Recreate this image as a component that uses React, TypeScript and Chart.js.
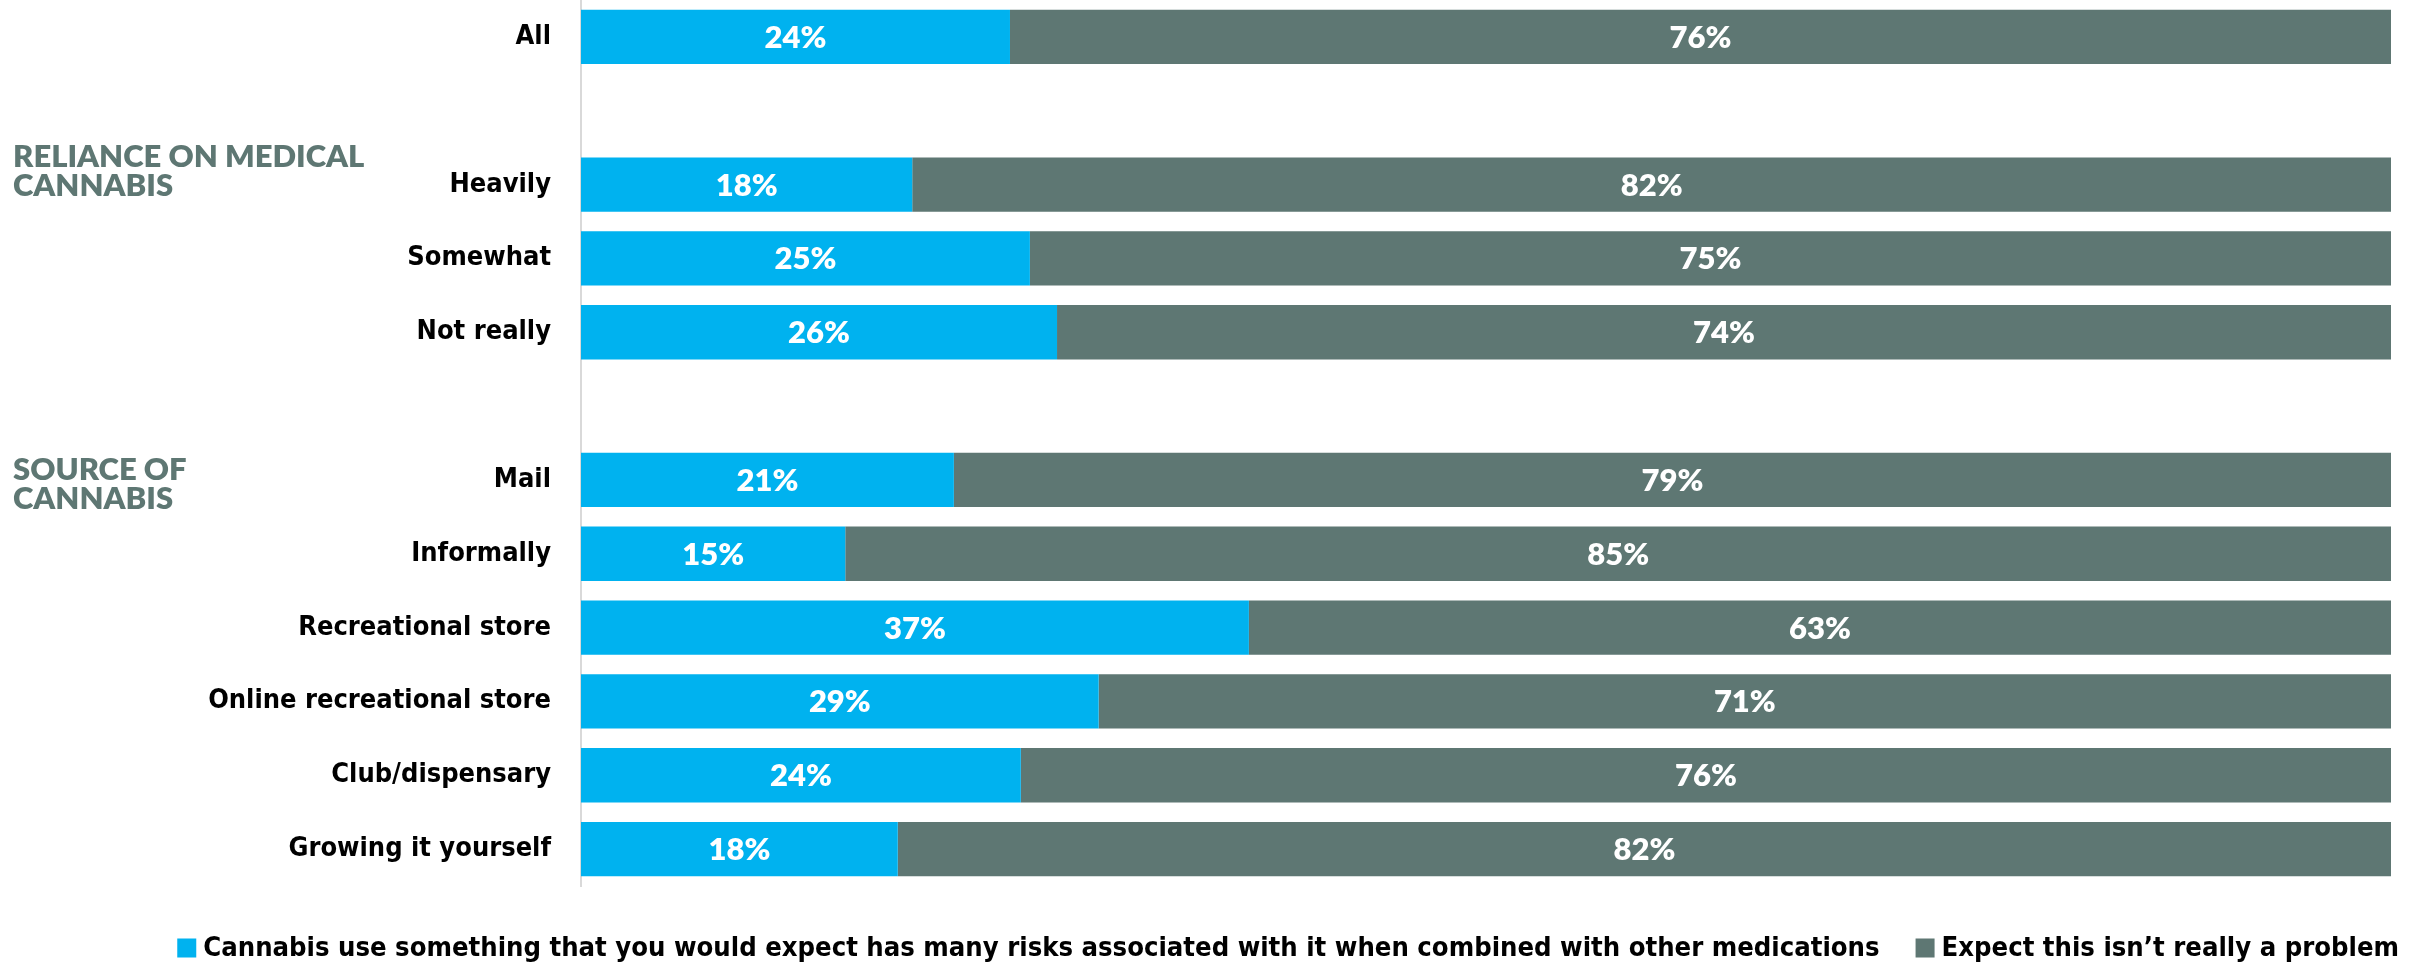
import React, { useEffect, useRef } from "react";
import { Chart, registerables } from "chart.js";

Chart.register(...registerables);

const categories = [
  "All",
  "",
  "Heavily",
  "Somewhat",
  "Not really",
  "",
  "Mail",
  "Informally",
  "Recreational store",
  "Online recreational store",
  "Club/dispensary",
  "Growing it yourself",
];
const risksValues = [23.7, null, 18.3, 24.8, 26.3, null, 20.6, 14.6, 36.9, 28.6, 24.3, 17.5];
const noProblemValues = [76.3, null, 81.7, 75.2, 73.7, null, 79.4, 85.4, 63.1, 71.4, 75.7, 82.5];
const risksLabels = ["24%", "", "18%", "25%", "26%", "", "21%", "15%", "37%", "29%", "24%", "18%"];
const noProblemLabels = ["76%", "", "82%", "75%", "74%", "", "79%", "85%", "63%", "71%", "76%", "82%"];
const seriesNames = [
  "Cannabis use something that you would expect has many risks associated with it when combined with other medications",
  "Expect this isn’t really a problem",
];
const seriesColors = ["#00b2ef", "#5e7773"];
const groupTitles = [
  ["RELIANCE ON MEDICAL", "CANNABIS"],
  ["SOURCE OF", "CANNABIS"],
];
const groupRows = [2, 6];
const groupOffsets = [-28, -10];

const TICK_FONT = "'Liberation Sans Narrow', 'DejaVu Sans Condensed', 'Roboto Condensed', sans-serif";
const LABEL_FONT = "Lato, 'Open Sans', sans-serif";

const valueLabelPlugin = {
  id: "valueLabels",
  afterDatasetsDraw(chart: any) {
    const ctx = chart.ctx;
    const labelSets = [risksLabels, noProblemLabels];
    ctx.save();
    ctx.fillStyle = "#ffffff";
    ctx.font = `800 31px ${LABEL_FONT}`;
    ctx.textAlign = "center";
    ctx.textBaseline = "middle";
    chart.data.datasets.forEach((ds: any, di: number) => {
      const meta = chart.getDatasetMeta(di);
      meta.data.forEach((el: any, i: number) => {
        const v = ds.data[i];
        if (v == null) return;
        const p = el.getProps(["x", "y", "base"], true);
        const cx = (p.x + p.base) / 2;
        ctx.fillText(labelSets[di][i], cx, p.y + 1);
      });
    });
    ctx.restore();
  },
};

const groupAndLegendPlugin = {
  id: "groupAndLegend",
  afterDraw(chart: any) {
    const ctx = chart.ctx;
    const yScale = chart.scales.y;
    ctx.save();
    // group titles
    ctx.font = `800 31px ${LABEL_FONT}`;
    ctx.fillStyle = "#5e7773";
    ctx.textAlign = "left";
    ctx.textBaseline = "middle";
    groupTitles.forEach((lines, gi) => {
      const base = yScale.getPixelForValue(groupRows[gi]) + groupOffsets[gi];
      lines.forEach((line, li) => {
        ctx.fillText(line, 13, base + li * 29);
      });
    });
    // legend
    ctx.font = `bold 27.2px ${TICK_FONT}`;
    const box = 19;
    const boxGap = 7;
    const itemGap = 36;
    const widths = seriesNames.map((n) => ctx.measureText(n).width);
    const total =
      widths.reduce((a, b) => a + b, 0) +
      seriesNames.length * (box + boxGap) +
      itemGap * (seriesNames.length - 1);
    let x = chart.chartArea.right + 8 - total;
    const y = 948;
    seriesNames.forEach((n, i) => {
      ctx.fillStyle = seriesColors[i];
      ctx.fillRect(x, y - box / 2, box, box);
      x += box + boxGap;
      ctx.fillStyle = "#000000";
      ctx.textBaseline = "middle";
      ctx.fillText(n, x, y + 1);
      x += widths[i] + itemGap;
    });
    ctx.restore();
  },
};

export default function App() {
  const canvasRef = useRef<HTMLCanvasElement | null>(null);

  useEffect(() => {
    if (!canvasRef.current) return;
    const chart = new Chart(canvasRef.current, {
      type: "bar",
      data: {
        labels: categories,
        datasets: [
          {
            label: seriesNames[0],
            data: risksValues,
            backgroundColor: seriesColors[0],
            barPercentage: 0.735,
            categoryPercentage: 1,
          },
          {
            label: seriesNames[1],
            data: noProblemValues,
            backgroundColor: seriesColors[1],
            barPercentage: 0.735,
            categoryPercentage: 1,
          },
        ],
      },
      options: {
        indexAxis: "y",
        responsive: false,
        maintainAspectRatio: false,
        animation: false,
        layout: { padding: { left: 0, right: 31, top: 0, bottom: 80 } },
        plugins: {
          legend: { display: false },
          tooltip: { enabled: false },
        },
        scales: {
          x: {
            stacked: true,
            min: 0,
            max: 100,
            display: false,
          },
          y: {
            stacked: true,
            grid: { display: false },
            border: { display: true, color: "#d9d9d9", width: 2 },
            ticks: {
              color: "#000000",
              padding: 22,
              font: { family: TICK_FONT, size: 27, weight: "bold" },
            },
            afterFit(scale: any) {
              scale.width = 581;
              scale.paddingTop = 0;
              scale.paddingBottom = 0;
            },
          },
        },
      },
      plugins: [valueLabelPlugin, groupAndLegendPlugin],
    });
    return () => chart.destroy();
  }, []);

  return (
    <div style={{ position: "absolute", left: 0, top: 0, width: 2422, height: 966, background: "#ffffff" }}>
      <canvas ref={canvasRef} width={2422} height={966} style={{ display: "block" }} />
    </div>
  );
}
